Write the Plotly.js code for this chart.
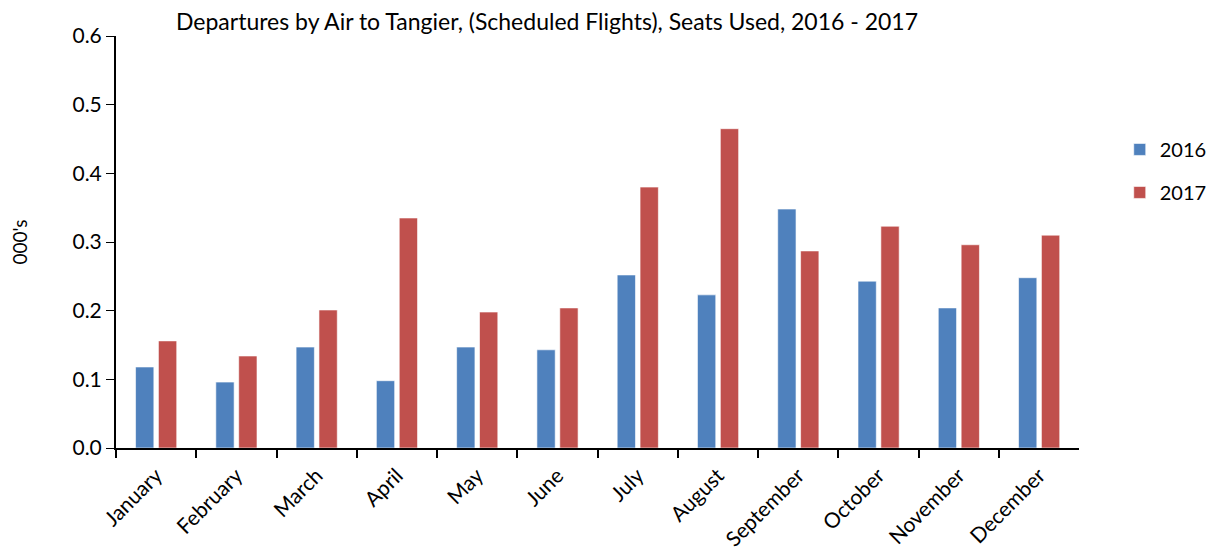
<!DOCTYPE html>
<html>
<head>
<meta charset="utf-8">
<script src="https://cdn.plot.ly/plotly-3.0.1.min.js"></script>
<style>html,body{margin:0;padding:0;background:#fff;}#chart{width:1212px;height:558px;}</style>
</head>
<body>
<div id="chart"></div>
<script>
const months = ["January","February","March","April","May","June","July","August","September","October","November","December"];
const seats2016 = [0.118,0.096,0.147,0.098,0.147,0.143,0.252,0.223,0.348,0.243,0.204,0.248];
const seats2017 = [0.156,0.134,0.201,0.335,0.198,0.204,0.380,0.465,0.287,0.323,0.296,0.310];
const yTicks = [0,0.1,0.2,0.3,0.4,0.5,0.6];

const font = "Lato, Open Sans, sans-serif";
const traces = [
  {type:"bar", name:"2016", x:months, y:seats2016, legendgroup:"a",
   marker:{color:"#4F81BD", line:{color:"rgba(255,255,255,0.6)", width:1}}},
  {type:"bar", name:"2017", x:months, y:seats2017, legendgroup:"b",
   marker:{color:"#C0504D", line:{color:"rgba(255,255,255,0.6)", width:1}}}
];
const layout = {
  width:1212, height:558,
  margin:{l:116, r:0, t:36, b:110},
  paper_bgcolor:"#fff", plot_bgcolor:"#fff",
  font:{family:font, color:"#000", size:19},
  barmode:"group", bargap:0.43, bargroupgap:0.2,
  title:{text:"Departures by Air to Tangier, (Scheduled Flights), Seats Used, 2016 - 2017",
    font:{size:23, family:font}, x:0.394, xref:"paper", xanchor:"center", y:0.96, yref:"container", yanchor:"middle"},
  xaxis:{type:"category", domain:[0, 0.8805], showline:true, linecolor:"#000", linewidth:2, ticks:"outside", tickson:"boundaries",
    ticklen:8, tickcolor:"#000", tickwidth:2, tickangle:-45, tickfont:{size:21}, ticklabelstandoff:5,
    showgrid:false, zeroline:false, automargin:false},
  yaxis:{range:[0,0.6], tickvals:yTicks, tickformat:".1f", showline:true, linecolor:"#000", linewidth:2,
    ticks:"outside", ticklen:8, tickcolor:"#000", tickwidth:1, tickfont:{size:21}, showgrid:false, zeroline:false,
    automargin:false, title:{text:"000's", font:{size:19}, standoff:40}},
  legend:{x:0.9175, xanchor:"left", y:0.772, yanchor:"top", font:{size:20}, traceorder:"grouped", tracegroupgap:14,
    bgcolor:"rgba(0,0,0,0)"},
  showlegend:true
};
Plotly.newPlot("chart", traces, layout, {displayModeBar:false, staticPlot:true});
</script>
</body>
</html>
